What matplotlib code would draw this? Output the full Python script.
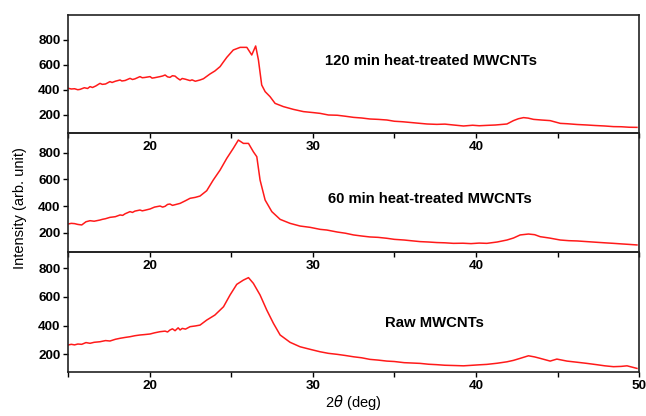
import matplotlib
matplotlib.use('Agg')
import matplotlib.pyplot as plt
import numpy as np

plt.rcParams['font.family'] = ['Liberation Sans', 'DejaVu Sans']

# 2theta (deg) i intensitat llegides de la figura
x_120 = [15.0, 15.2, 15.4, 15.6, 15.74, 16.0, 16.2, 16.35, 16.5, 16.7, 16.96, 17.1, 17.3, 17.57, 17.7,
         17.9, 18.19, 18.3, 18.5, 18.8, 18.95, 19.1, 19.41, 19.55, 19.7, 20.03, 20.15, 20.3, 20.64,
         20.8, 20.95, 21.1, 21.25, 21.4, 21.56, 21.7, 21.87, 22.0, 22.2, 22.48, 22.6, 22.8, 23.09,
         23.3, 23.7, 24.0, 24.32, 24.5, 24.73, 25.13, 25.55, 25.96, 26.26, 26.5, 26.67, 26.87,
         27.08, 27.38, 27.69, 28.2, 28.81, 29.43, 30.04, 30.45, 30.96, 31.5, 32.0, 32.5, 33.0,
         33.5, 34.0, 34.54, 35.0, 35.5, 36.0, 36.58, 37.0, 37.6, 38.1, 38.62, 39.24, 39.8, 40.2,
         40.67, 41.2, 41.9, 42.3, 42.6, 42.92, 43.2, 43.53, 44.0, 44.55, 45.17, 45.6, 46.2, 46.8,
         47.3, 47.9, 48.43, 48.9, 49.4, 49.87]
y_120 = [414, 408, 410, 402, 405, 418, 412, 427, 420, 432, 453, 445, 448, 467, 460,
         470, 480, 472, 476, 493, 484, 489, 507, 498, 500, 507, 495, 498, 507,
         512, 520, 505, 501, 514, 511, 495, 480, 492, 486, 475, 481, 470, 480,
         490, 528, 552, 587, 620, 661, 720, 741, 741, 680, 752, 640, 440,
         387, 347, 293, 267, 245, 227, 219, 213, 200, 198, 190, 181, 176,
         168, 165, 160, 150, 146, 140, 133, 128, 125, 127, 120, 112, 118, 114,
         117, 120, 128, 155, 170, 179, 175, 165, 160, 155, 133, 130, 124, 120,
         116, 112, 107, 106, 102, 101]

x_60 = [15.0, 15.2, 15.4, 15.6, 15.84, 16.1, 16.35, 16.6, 16.96, 17.1, 17.3, 17.57, 17.9, 18.19,
        18.35, 18.5, 18.8, 18.95, 19.1, 19.41, 19.55, 19.7, 20.03, 20.3, 20.64, 20.8, 20.95,
        21.1, 21.25, 21.4, 21.56, 21.87, 22.2, 22.48, 22.8, 23.09, 23.5, 23.9, 24.32, 24.73,
        25.13, 25.44, 25.75, 26.06, 26.36, 26.57, 26.77, 27.08, 27.49, 28.0, 28.61, 29.22,
        29.84, 30.45, 30.86, 31.5, 32.0, 32.5, 33.0, 33.5, 34.0, 34.54, 35.0, 35.6, 36.0,
        36.58, 37.1, 37.6, 38.1, 38.62, 39.2, 39.7, 40.2, 40.67, 41.3, 41.9, 42.3, 42.71,
        43.22, 43.6, 43.94, 44.5, 45.17, 45.7, 46.2, 46.8, 47.4, 47.9, 48.43, 48.9, 49.4, 49.87]
y_60 = [265, 270, 268, 262, 258, 282, 290, 286, 295, 300, 305, 315, 320, 333,
        330, 342, 358, 352, 362, 370, 364, 368, 378, 392, 400, 392, 398,
        412, 415, 405, 410, 420, 440, 458, 465, 475, 515, 595, 670, 758,
        833, 895, 870, 870, 807, 770, 595, 445, 358, 300, 270, 250,
        240, 225, 220, 205, 196, 183, 175, 168, 165, 158, 150, 145, 140,
        133, 130, 126, 124, 120, 121, 118, 122, 120, 130, 145, 160, 183,
        190, 185, 170, 160, 145, 140, 138, 133, 128, 124, 120, 116, 112, 108]

x_raw = [15.0, 15.2, 15.4, 15.6, 15.84, 16.1, 16.35, 16.6, 16.96, 17.3, 17.57, 17.9, 18.19, 18.5,
         18.8, 19.1, 19.41, 19.7, 20.03, 20.3, 20.64, 20.95, 21.1, 21.25, 21.4, 21.56, 21.75,
         21.87, 22.0, 22.2, 22.48, 22.8, 23.09, 23.5, 24.0, 24.53, 24.93, 25.34, 25.75, 26.06,
         26.36, 26.77, 27.18, 27.59, 28.0, 28.61, 29.22, 29.84, 30.45, 30.96, 31.5, 32.0, 32.5,
         33.0, 33.5, 34.0, 34.54, 35.0, 35.6, 36.0, 36.58, 37.1, 37.6, 38.1, 38.7, 39.24, 39.8,
         40.2, 40.67, 41.3, 41.9, 42.3, 42.71, 43.22, 43.6, 43.94, 44.55, 44.96, 45.58, 46.2,
         46.8, 47.4, 47.9, 48.43, 48.9, 49.26, 49.6, 49.87]
y_raw = [265, 270, 266, 272, 270, 282, 277, 284, 288, 296, 293, 305, 312, 318,
         323, 330, 335, 338, 342, 350, 358, 362, 356, 370, 378, 365, 385,
         370, 381, 376, 393, 398, 404, 439, 474, 532, 614, 688, 718, 735,
         695, 614, 509, 416, 335, 284, 253, 235, 218, 207, 200, 192, 183,
         176, 165, 160, 153, 150, 142, 140, 137, 131, 128, 124, 122, 120, 124,
         127, 130, 138, 148, 158, 172, 190, 182, 172, 153, 167, 153, 145,
         137, 128, 120, 114, 116, 120, 110, 102]

panells = [(x_120, y_120, '120 min heat-treated MWCNTs', (56, 1000), 30.76, 632),
           (x_60, y_60, '60 min heat-treated MWCNTs', (55, 948), 30.93, 456),
           (x_raw, y_raw, 'Raw MWCNTs', (77, 914), 34.4, 420)]

fig = plt.figure(figsize=(6.46, 4.16), dpi=100)
posicions = [[0.1053, 0.6803, 0.884, 0.2837],
             [0.1053, 0.3942, 0.884, 0.2861],
             [0.1053, 0.1058, 0.884, 0.2885]]

for i, (xs, ys, text, ylim, tx, ty) in enumerate(panells):
    ax = fig.add_axes(posicions[i])
    ax.set_facecolor('none')
    ax.plot(xs, ys, color='#ff1a1a', lw=1.1)
    ax.set_xlim(15, 50)
    ax.set_ylim(*ylim)
    ax.set_yticks([200, 400, 600, 800])
    ax.set_xticks([15, 20, 25, 30, 35, 40, 45, 50])
    if i < 2:
        etiquetes = ['', '20', '', '30', '', '40', '', '']
    else:
        etiquetes = ['', '20', '', '30', '', '40', '', '50']
    ax.set_xticklabels(etiquetes)
    ax.tick_params(direction='out', length=3.5, width=1.0, labelsize=9.7, pad=2)
    for lab in ax.get_xticklabels() + ax.get_yticklabels():
        lab.set_fontweight('bold')
    for sp in ax.spines.values():
        sp.set_linewidth(1.2)
        sp.set_color('#222222')
    ax.text(tx, ty, text, fontsize=10.7, fontweight='bold', va='center', ha='left')
    if i == 2:
        ax.set_xlabel(r'2$\theta$ (deg)', fontsize=10.5, labelpad=1)

fig.text(0.031, 0.5, 'Intensity (arb. unit)', rotation=90, va='center', ha='center', fontsize=10.5)

plt.savefig('out.png', dpi=100)
